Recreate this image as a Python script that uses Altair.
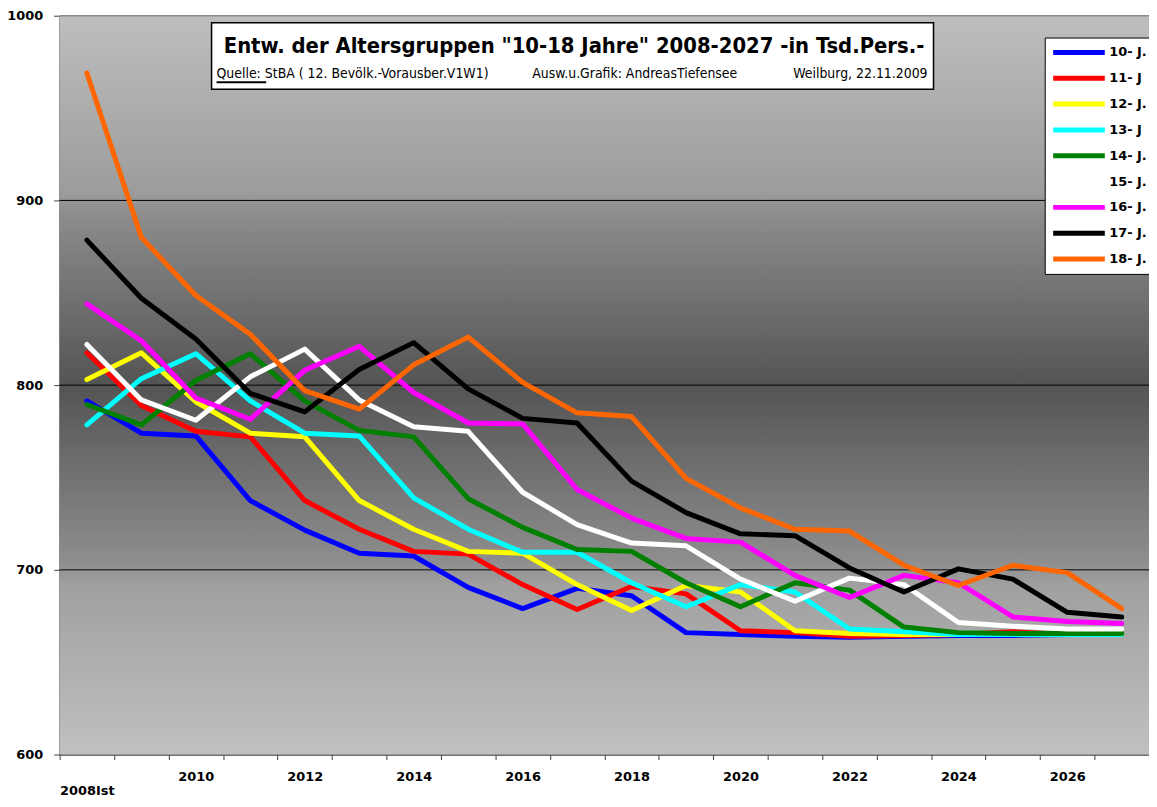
import altair as alt
import pandas as pd

YEARS = list(range(2008, 2028))
SERIES = ["10- J.", "11- J", "12- J.", "13- J", "14- J.", "15- J.", "16- J.", "17- J.", "18- J."]
COLORS = ["#0000ff", "#ff0000", "#ffff00", "#00ffff", "#008000", "#ffffff", "#ff00ff", "#000000", "#ff6600"]

v10 = [791.5, 774, 772.5, 737.5, 721.5, 709, 707.5, 690.5, 679, 690, 686, 666, 665, 664, 663.5, 664, 664.5, 664.5, 665, 665]
v11 = [817.5, 789, 775, 772, 737.5, 722, 710, 708.5, 692, 678.5, 691, 687, 667, 666, 664, 664.5, 665, 666.5, 665, 665]
v12 = [803, 817.5, 791, 774, 772, 737.5, 722, 710, 709, 692, 678, 691.5, 688, 667, 665.5, 665, 665, 665, 665, 665]
v13 = [778.5, 803.5, 817, 791.5, 774, 772.5, 739, 722, 709.5, 709.5, 693, 680, 692, 688, 668, 666.5, 665, 665, 665, 665]
v14 = [789.5, 778.5, 802.5, 817, 791.5, 775.5, 772, 738.5, 723, 711, 710, 693, 680, 693, 689, 669, 666, 665.5, 665.5, 665.5]
v15 = [822, 792, 781, 804.5, 819.5, 792, 777.5, 775, 742, 724.5, 714.5, 713, 695, 683, 695.5, 692, 671.5, 669.5, 668, 668]
v16 = [844, 824, 793, 781.5, 808, 821, 796, 779.5, 779, 743.5, 728, 717, 715, 697, 685, 697, 693, 674.5, 672, 671]
v17 = [878.5, 847, 825, 795.5, 785.5, 808.5, 823, 798, 782, 779.5, 748, 731, 719.5, 718.5, 701, 688, 700.5, 695, 677, 674.5]
v18 = [969, 880, 848.5, 827.5, 797, 787, 811, 826, 801.5, 785, 783, 749.5, 733.5, 722, 721, 702.5, 691.5, 702.5, 698.5, 679]
VALUES = [v10, v11, v12, v13, v14, v15, v16, v17, v18]

GRID = [700, 800, 900]
TOP = [1000]
Y_TICKS = [600, 700, 800, 900, 1000]

TITLE = 'Entw. der Altersgruppen "10-18 Jahre" 2008-2027  -in Tsd.Pers.-'
SRC_LEFT = "Quelle: StBA ( 12. Bevölk.-Vorausber.V1W1)"
SRC_MID = "Ausw.u.Grafik: AndreasTiefensee"
SRC_RIGHT = "Weilburg, 22.11.2009"

W = 1097
H = 744

rows = []
for name, vals in zip(SERIES, VALUES):
    for yr, v in zip(YEARS, vals):
        rows.append({"serie": name, "year": yr, "value": v})
df = pd.DataFrame(rows)

yscale = alt.Scale(domain=[600, 1000], nice=False, zero=False)
one = pd.DataFrame({"a": [0]})

bg = alt.Chart(one).mark_rect(
    fill=alt.Gradient(
        gradient="linear", x1=0, x2=0, y1=0, y2=1,
        stops=[
            alt.GradientStop(color="#bebebe", offset=0),
            alt.GradientStop(color="#9c9c9c", offset=0.24),
            alt.GradientStop(color="#8c8c8c", offset=0.27),
            alt.GradientStop(color="#545454", offset=0.5),
            alt.GradientStop(color="#8e8e8e", offset=0.74),
            alt.GradientStop(color="#a0a0a0", offset=0.77),
            alt.GradientStop(color="#c0c0c0", offset=1),
        ],
    )
).encode(x=alt.value(0), x2=alt.value(W), y=alt.value(0), y2=alt.value(H))

grid = alt.Chart(pd.DataFrame({"g": GRID})).mark_rule(color="#000000", strokeWidth=1).encode(
    y=alt.Y("g:Q", scale=yscale)
)
top = alt.Chart(pd.DataFrame({"g": TOP})).mark_rule(color="#8a8a8a", strokeWidth=1.5).encode(
    y=alt.Y("g:Q", scale=yscale)
)

lines = alt.Chart(df).mark_line(strokeWidth=5, strokeCap="round", strokeJoin="round").encode(
    x=alt.X(
        "year:O",
        bandPosition=0.5,
        scale=alt.Scale(type="band", paddingInner=0, paddingOuter=0),
        sort=YEARS,
        axis=alt.Axis(
            title=None,
            tickBand="extent",
            labelAngle=0,
            labelExpr="datum.value == 2008 ? ['', '2008Ist'] : (datum.value % 2 == 0 ? '' + datum.value : '')",
            labelFont="DejaVu Sans",
            labelFontWeight="bold",
            labelFontSize=13,
            labelColor="#000000",
            labelPadding=11,
            labelLineHeight=14,
            labelOverlap=False,
            tickSize=5,
            tickColor="#404040",
            domainColor="#404040",
            domainWidth=1.5,
            grid=False,
        ),
    ),
    y=alt.Y(
        "value:Q",
        scale=yscale,
        axis=alt.Axis(
            title=None,
            values=Y_TICKS,
            format="d",
            labelFont="DejaVu Sans",
            labelFontWeight="bold",
            labelFontSize=13,
            labelColor="#000000",
            labelPadding=11,
            tickSize=6,
            tickColor="#404040",
            domainColor="#404040",
            domainWidth=1.5,
            grid=False,
        ),
    ),
    color=alt.Color(
        "serie:N",
        sort=SERIES,
        scale=alt.Scale(domain=SERIES, range=COLORS),
        legend=alt.Legend(
            title=None,
            orient="none",
            legendX=992,
            legendY=22,
            fillColor="#ffffff",
            strokeColor="#000000",
            padding=2,
            symbolType="stroke",
            symbolSize=2704,
            symbolStrokeWidth=5,
            symbolOffset=4,
            clipHeight=26,
            rowPadding=0,
            labelOffset=2,
            labelFont="DejaVu Sans",
            labelFontWeight="bold",
            labelFontSize=13,
            labelColor="#000000",
        ),
    ),
    order=alt.Order("year:O"),
)

box = alt.Chart(one).mark_rect(fill="#ffffff", stroke="#000000", strokeWidth=1.5).encode(
    x=alt.value(153), x2=alt.value(880), y=alt.value(7), y2=alt.value(74)
)

NARROW = "Liberation Sans Narrow, DejaVu Sans Condensed, sans-serif"

title_txt = alt.Chart(pd.DataFrame({"t": [TITLE]})).mark_text(
    font=NARROW, fontSize=22, fontWeight="bold", color="#000000", align="center", baseline="middle"
).encode(x=alt.value(518), y=alt.value(31), text="t:N")

src_l = alt.Chart(pd.DataFrame({"t": [SRC_LEFT]})).mark_text(
    font=NARROW, fontSize=14, color="#000000", align="left", baseline="middle"
).encode(x=alt.value(158), y=alt.value(59), text="t:N")

src_m = alt.Chart(pd.DataFrame({"t": [SRC_MID]})).mark_text(
    font=NARROW, fontSize=14, color="#000000", align="left", baseline="middle"
).encode(x=alt.value(476), y=alt.value(59), text="t:N")

src_r = alt.Chart(pd.DataFrame({"t": [SRC_RIGHT]})).mark_text(
    font=NARROW, fontSize=14, color="#000000", align="right", baseline="middle"
).encode(x=alt.value(874), y=alt.value(59), text="t:N")

underline = alt.Chart(one).mark_rule(color="#000000", strokeWidth=2).encode(
    x=alt.value(158), x2=alt.value(208), y=alt.value(67)
)

chart = alt.layer(bg, grid, top, lines, box, title_txt, src_l, src_m, src_r, underline).properties(
    width=W, height=H,
    autosize=alt.AutoSizeParams(type="none"),
    padding={"left": 52, "top": 5, "right": 0, "bottom": 42},
    background="#ffffff",
).configure_view(stroke="transparent")

chart.save("out.html", embed_options={"renderer": "svg", "actions": False})
